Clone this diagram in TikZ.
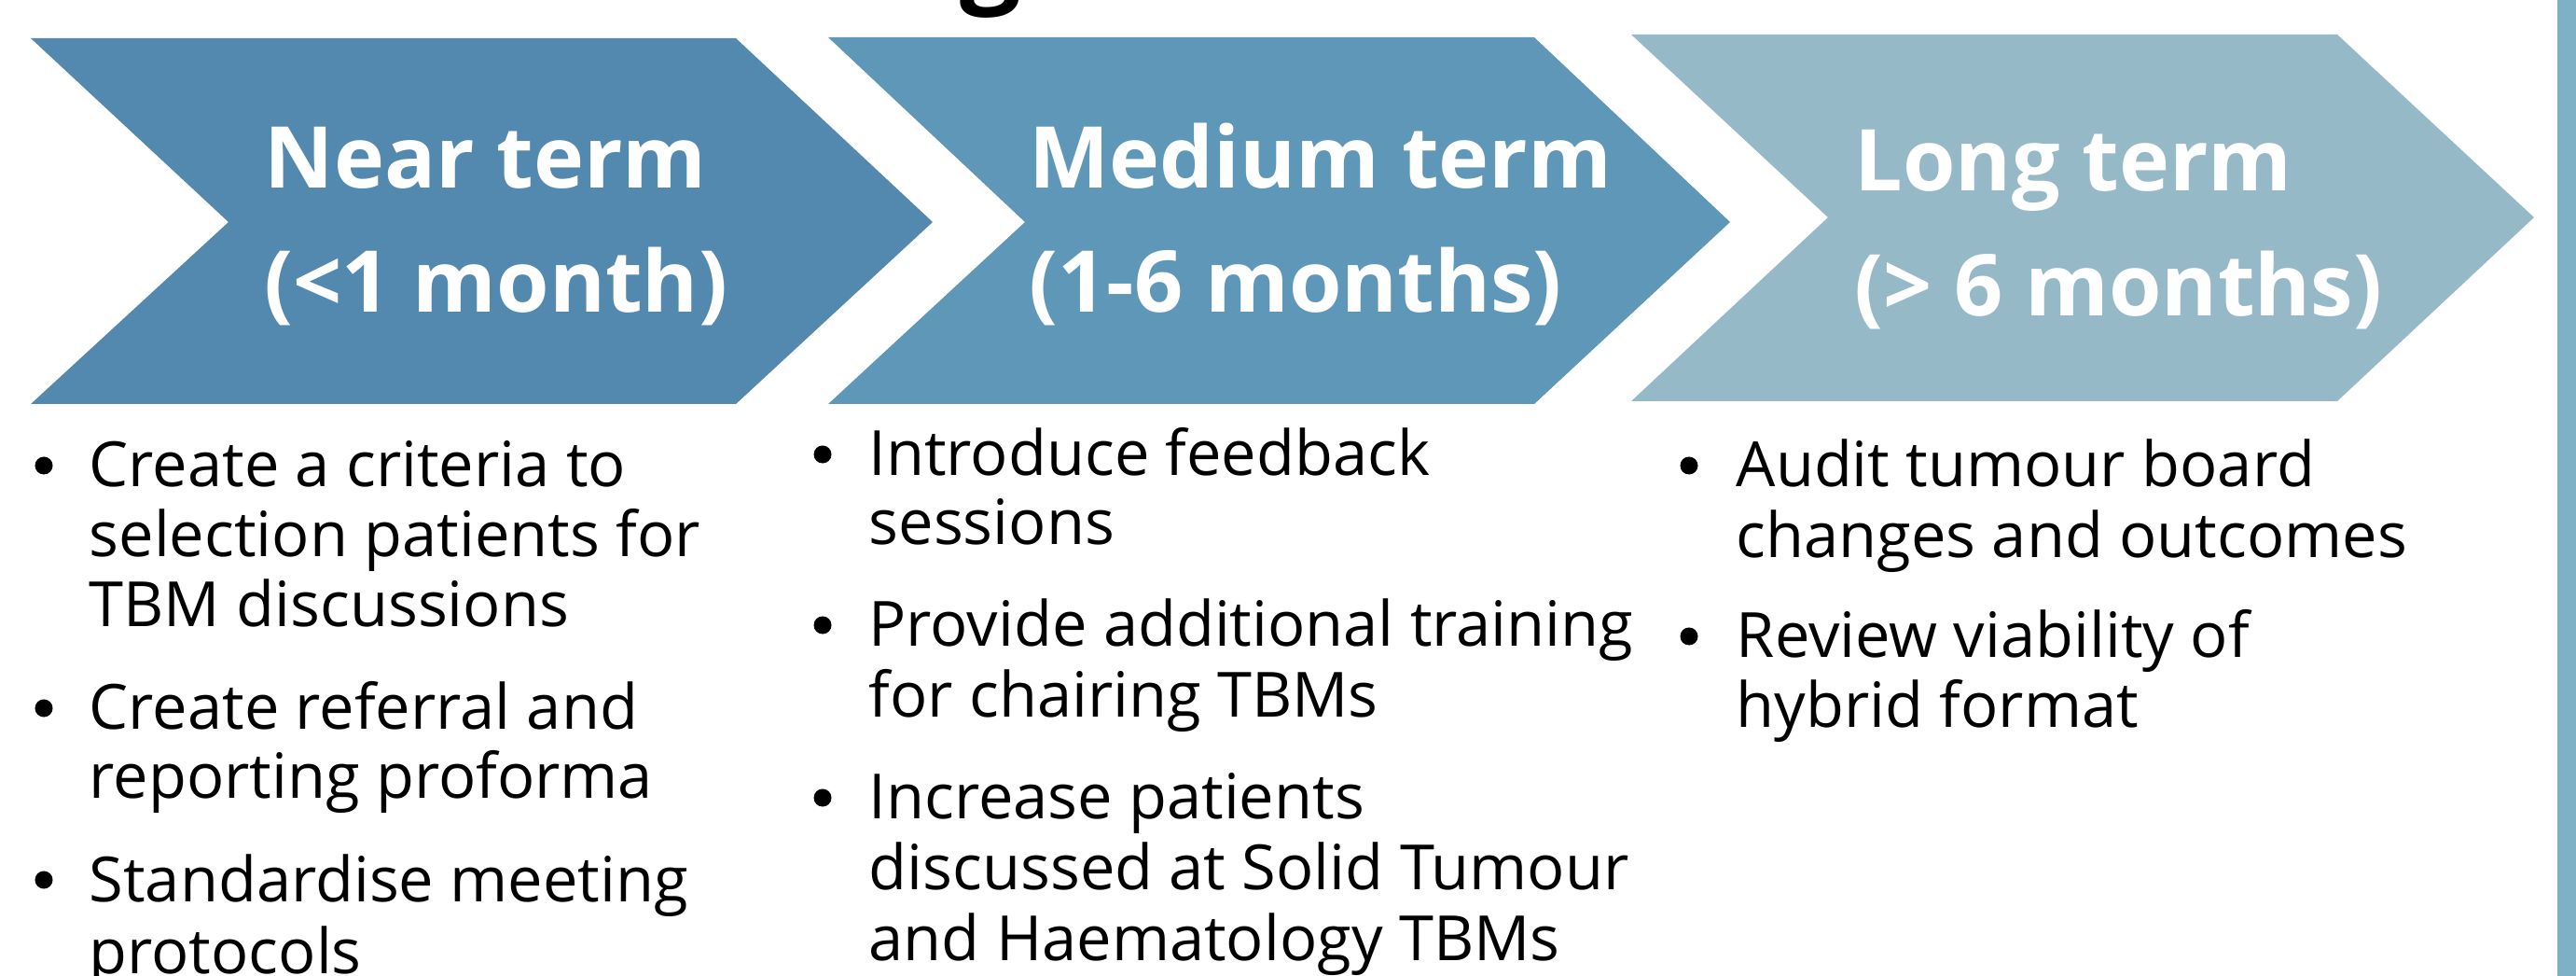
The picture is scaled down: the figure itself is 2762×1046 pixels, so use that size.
\documentclass[tikz,border=0pt]{standalone}
\usepackage{fontspec}
\setmainfont{Open Sans}
\definecolor{chevA}{HTML}{5389AE}
\definecolor{chevB}{HTML}{5F97B9}
\definecolor{chevC}{HTML}{96B9C8}
\definecolor{barC}{HTML}{7EB0C6}
\begin{document}
\begin{tikzpicture}[x=0.01cm,y=-0.01cm,
  head/.style={anchor=base west, inner sep=0pt, text=white, font=\fontsize{26}{29}\selectfont\bfseries},
  body/.style={anchor=base west, inner sep=0pt, font=\fontsize{19}{22}\selectfont},
  dot/.style={circle, fill=black, inner sep=0pt, minimum size=0.19cm}]
\useasboundingbox (0,0) rectangle (2762,1046);
\clip (0,0) rectangle (2762,1046);
\fill[white] (0,0) rectangle (2762,1046);
% cut-off title
\node[anchor=base, inner sep=0pt, font=\fontsize{33}{36}\selectfont\bfseries] (title) at (1062,-8) {g};
% right bar
\fill[barC] (2742,0) rectangle (2762,1046);
% chevrons
\fill[chevA] (33,41) -- (789,41) -- (1000,238) -- (789,433) -- (33,433) -- (245,238) -- cycle;
\fill[chevB] (888,40) -- (1645,40) -- (1855,238) -- (1645,433) -- (888,433) -- (1099,238) -- cycle;
\fill[chevC] (1749,37) -- (2506,37) -- (2717,233) -- (2506,430) -- (1749,430) -- (1960,233) -- cycle;
% headings
\node[head] (h1a) at (283,202) {Near term};
\node[head] (h1b) at (283,335) {(<1 month)};
\node[head] (h2a) at (1103,202) {Medium term};
\node[head] (h2b) at (1103,335) {(1-6 months)};
\node[head] (h3a) at (1988,205) {Long term};
\node[head] (h3b) at (1988,339) {(> 6 months)};
% column 1
\node[dot] (b11) at (47,499) {};
\node[body] (c1l1) at (95,522) {Create a criteria to};
\node[body] (c1l2) at (95,597) {selection patients for};
\node[body] (c1l3) at (95,672) {TBM discussions};
\node[dot] (b12) at (47,759) {};
\node[body] (c1l4) at (95,782) {Create referral and};
\node[body] (c1l5) at (95,856) {reporting proforma};
\node[dot] (b13) at (47,943) {};
\node[body] (c1l6) at (95,966) {Standardise meeting};
\node[body] (c1l7) at (95,1043) {protocols};
% column 2
\node[dot] (b21) at (882,487) {};
\node[body] (c2l1) at (931,510) {Introduce feedback};
\node[body] (c2l2) at (931,584) {sessions};
\node[dot] (b22) at (882,670) {};
\node[body] (c2l3) at (931,693) {Provide additional training};
\node[body] (c2l4) at (931,768) {for chairing TBMs};
\node[dot] (b23) at (882,855) {};
\node[body] (c2l5) at (931,878) {Increase patients};
\node[body] (c2l6) at (931,954) {discussed at Solid Tumour};
\node[body] (c2l7) at (931,1029) {and Haematology TBMs};
% column 3
\node[dot] (b31) at (1811,499) {};
\node[body] (c3l1) at (1861,522) {Audit tumour board};
\node[body] (c3l2) at (1861,598) {changes and outcomes};
\node[dot] (b32) at (1811,682) {};
\node[body] (c3l3) at (1861,705) {Review viability of};
\node[body] (c3l4) at (1861,780) {hybrid format};
\end{tikzpicture}
\end{document}
